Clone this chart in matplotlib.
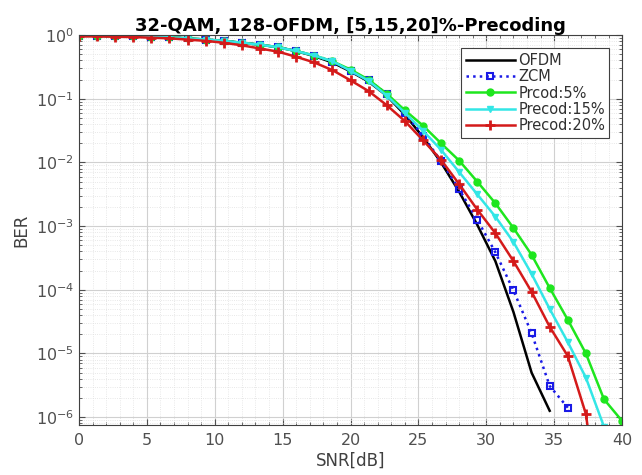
import numpy as np
import matplotlib
matplotlib.use("Agg")
import matplotlib.pyplot as plt
from matplotlib.ticker import LogLocator, MultipleLocator, NullFormatter

plt.rcParams['font.family'] = ['DejaVu Sans']

# SNR grid (31 points, 0..40 dB)
snr = np.linspace(0, 40, 31)
y_ticks = [1e-6, 1e-5, 1e-4, 1e-3, 1e-2, 1e-1, 1e0]

nan = np.nan
ber_ofdm = [0.977, 0.977, 0.966, 0.955, 0.944, 0.923, 0.891, 0.851, 0.813, 0.759,
            0.708, 0.646, 0.562, 0.468, 0.372, 0.269, 0.186, 0.112, 0.0562, 0.0251,
            0.0100, 0.00347, 0.00105, 2.82e-4, 4.47e-5, 5.01e-6, 1.26e-6, nan, nan, nan, nan]
ber_zcm = [0.977, 0.977, 0.966, 0.955, 0.944, 0.923, 0.891, 0.851, 0.813, 0.759,
           0.708, 0.646, 0.562, 0.479, 0.380, 0.275, 0.195, 0.120, 0.0603, 0.0263,
           0.0105, 0.0038, 0.00126, 3.89e-4, 9.77e-5, 2.09e-5, 3.09e-6, 1.41e-6, nan, nan, nan]
ber_p5 = [0.977, 0.977, 0.966, 0.955, 0.944, 0.923, 0.891, 0.851, 0.813, 0.759,
          0.708, 0.646, 0.562, 0.479, 0.389, 0.288, 0.200, 0.120, 0.0661, 0.0380,
          0.0200, 0.0107, 0.0050, 0.00229, 9.33e-4, 3.55e-4, 1.07e-4, 3.39e-5, 1.0e-5, 1.91e-6, 8.71e-7]
ber_p15 = [0.977, 0.977, 0.966, 0.955, 0.944, 0.923, 0.891, 0.851, 0.813, 0.759,
           0.708, 0.646, 0.562, 0.479, 0.389, 0.275, 0.191, 0.112, 0.0603, 0.0316,
           0.0158, 0.00708, 0.00316, 0.00141, 5.62e-4, 1.78e-4, 5.01e-5, 1.51e-5, 4.17e-6, 7.08e-7, nan]
ber_p20 = [0.955, 0.955, 0.944, 0.933, 0.912, 0.891, 0.851, 0.813, 0.759, 0.692,
           0.617, 0.550, 0.457, 0.372, 0.282, 0.195, 0.132, 0.0794, 0.0447, 0.0224,
           0.0110, 0.00457, 0.00182, 7.76e-4, 2.82e-4, 9.33e-5, 2.63e-5, 9.12e-6, 1.12e-6, 1e-8, nan]

fig = plt.figure(figsize=(6.42, 4.75), dpi=100)
ax = fig.add_axes([0.123, 0.105, 0.846, 0.821])

ax.semilogy(snr, ber_ofdm, '-', color='black', lw=1.8, label='OFDM')
ax.semilogy(snr, ber_zcm, ':', color='#1a1ae6', lw=1.8, marker='s', ms=5,
            mfc='none', mec='#1a1ae6', mew=1.5, label='ZCM')
ax.semilogy(snr, ber_p5, '-', color='#1ee61e', lw=1.8, marker='o', ms=5,
            mfc='#1ee61e', mec='#1ee61e', label='Prcod:5%')
ax.semilogy(snr, ber_p15, '-', color='#33e6e6', lw=1.8, marker='v', ms=4,
            mfc='#33e6e6', mec='#33e6e6', label='Precod:15%')
ax.semilogy(snr, ber_p20, '-', color='#d41a1a', lw=1.8, marker='+', ms=7,
            mew=2, mec='#d41a1a', label='Precod:20%')

ax.set_xlim(0, 40)
ax.set_ylim(10 ** -6.125, 1)
ax.xaxis.set_major_locator(MultipleLocator(5))
ax.xaxis.set_minor_locator(MultipleLocator(1))
ax.set_yticks(y_ticks)
ax.yaxis.set_minor_locator(LogLocator(base=10, subs=np.arange(2, 10), numticks=20))
ax.yaxis.set_minor_formatter(NullFormatter())
ax.xaxis.get_offset_text().set_visible(False)
ax.yaxis.get_offset_text().set_visible(False)

ax.grid(True, which='major', color='#d0d0d0', lw=0.8, ls='-')
ax.grid(True, which='minor', color='#e0e0e0', lw=0.6, ls=':')
ax.set_axisbelow(True)

ax.tick_params(which='both', direction='in', top=True, right=True,
               labelsize=11.5, colors='#505050')
ax.tick_params(which='major', length=4)
ax.tick_params(which='minor', length=2)
ax.tick_params(axis='x', pad=6)
for sp in ax.spines.values():
    sp.set_color('#404040')
    sp.set_linewidth(0.8)

ax.set_xlabel('SNR[dB]', fontsize=12, color='#404040', labelpad=2)
ax.set_ylabel('BER', fontsize=12, color='#404040', labelpad=4)
ax.set_title('32-QAM, 128-OFDM, [5,15,20]%-Precoding', fontsize=13,
             fontweight='bold', pad=3)

leg = ax.legend(loc='upper right', fontsize=10.5, handlelength=3.4,
                labelspacing=0.1, borderpad=0.3, handletextpad=0.2,
                fancybox=False, framealpha=1, edgecolor='#404040',
                bbox_to_anchor=(0.99, 0.985))
leg.get_frame().set_linewidth(0.8)
for t in leg.get_texts():
    t.set_color('#303030')

fig.savefig('out.png', dpi=100)
